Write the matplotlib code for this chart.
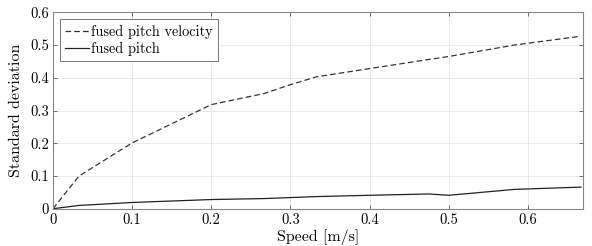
import matplotlib
matplotlib.use('Agg')
import matplotlib.pyplot as plt
import numpy as np

speed = [0, 0.033, 0.1, 0.2, 0.267, 0.3, 0.333, 0.4, 0.467, 0.5, 0.583, 0.667]
pitchVel = [0, 0.1, 0.201, 0.318, 0.352, 0.379, 0.403, 0.428, 0.453, 0.465, 0.500, 0.527]

speedP = [0, 0.033, 0.1, 0.2, 0.267, 0.3, 0.333, 0.4, 0.475, 0.5, 0.583, 0.667]
pitch = [0, 0.010, 0.019, 0.028, 0.031, 0.034, 0.037, 0.041, 0.045, 0.041, 0.059, 0.066]

xticks = [0, 0.1, 0.2, 0.3, 0.4, 0.5, 0.6]
xtickLabels = ['0', '0.1', '0.2', '0.3', '0.4', '0.5', '0.6']
yticks = [0, 0.1, 0.2, 0.3, 0.4, 0.5, 0.6]
ytickLabels = ['0', '0.1', '0.2', '0.3', '0.4', '0.5', '0.6']

plt.rcParams['font.family'] = 'serif'
plt.rcParams['font.serif'] = ['cmr10']
plt.rcParams['mathtext.fontset'] = 'cm'
plt.rcParams['axes.formatter.use_mathtext'] = True

fig = plt.figure(figsize=(5.92, 2.46), dpi=100)
ax = fig.add_axes([0.0895, 0.1516, 0.8958, 0.7984])

ax.plot(speed, pitchVel, '--', color='#333333', lw=0.9, dashes=(4.5, 2.5), label='fused pitch velocity')
ax.plot(speedP, pitch, '-', color='#222222', lw=0.9, label='fused pitch')

ax.set_xlim(0, 0.67)
ax.set_ylim(0, 0.6)
ax.set_xticks(xticks)
ax.set_xticklabels(xtickLabels)
ax.set_yticks(yticks)
ax.set_yticklabels(ytickLabels)
ax.tick_params(direction='in', length=3, width=0.6, color='#555555',
               top=True, right=True, labelsize=10.5, pad=3)
ax.grid(True, color='#e6e6e6', lw=0.6)
ax.set_axisbelow(True)
for s in ax.spines.values():
    s.set_color('#888888')
    s.set_linewidth(0.8)

ax.set_xlabel('Speed [m/s]', fontsize=11.5, labelpad=2)
ax.set_ylabel('Standard deviation', fontsize=11.5, labelpad=5)

leg = ax.legend(loc='upper left', fontsize=10.3, handlelength=1.7, handletextpad=0.1,
                borderpad=0.35, labelspacing=0.25, fancybox=False, framealpha=1,
                borderaxespad=0.5)
leg.get_frame().set_edgecolor('#777777')
leg.get_frame().set_linewidth(0.7)

plt.savefig('out.png', dpi=100)
